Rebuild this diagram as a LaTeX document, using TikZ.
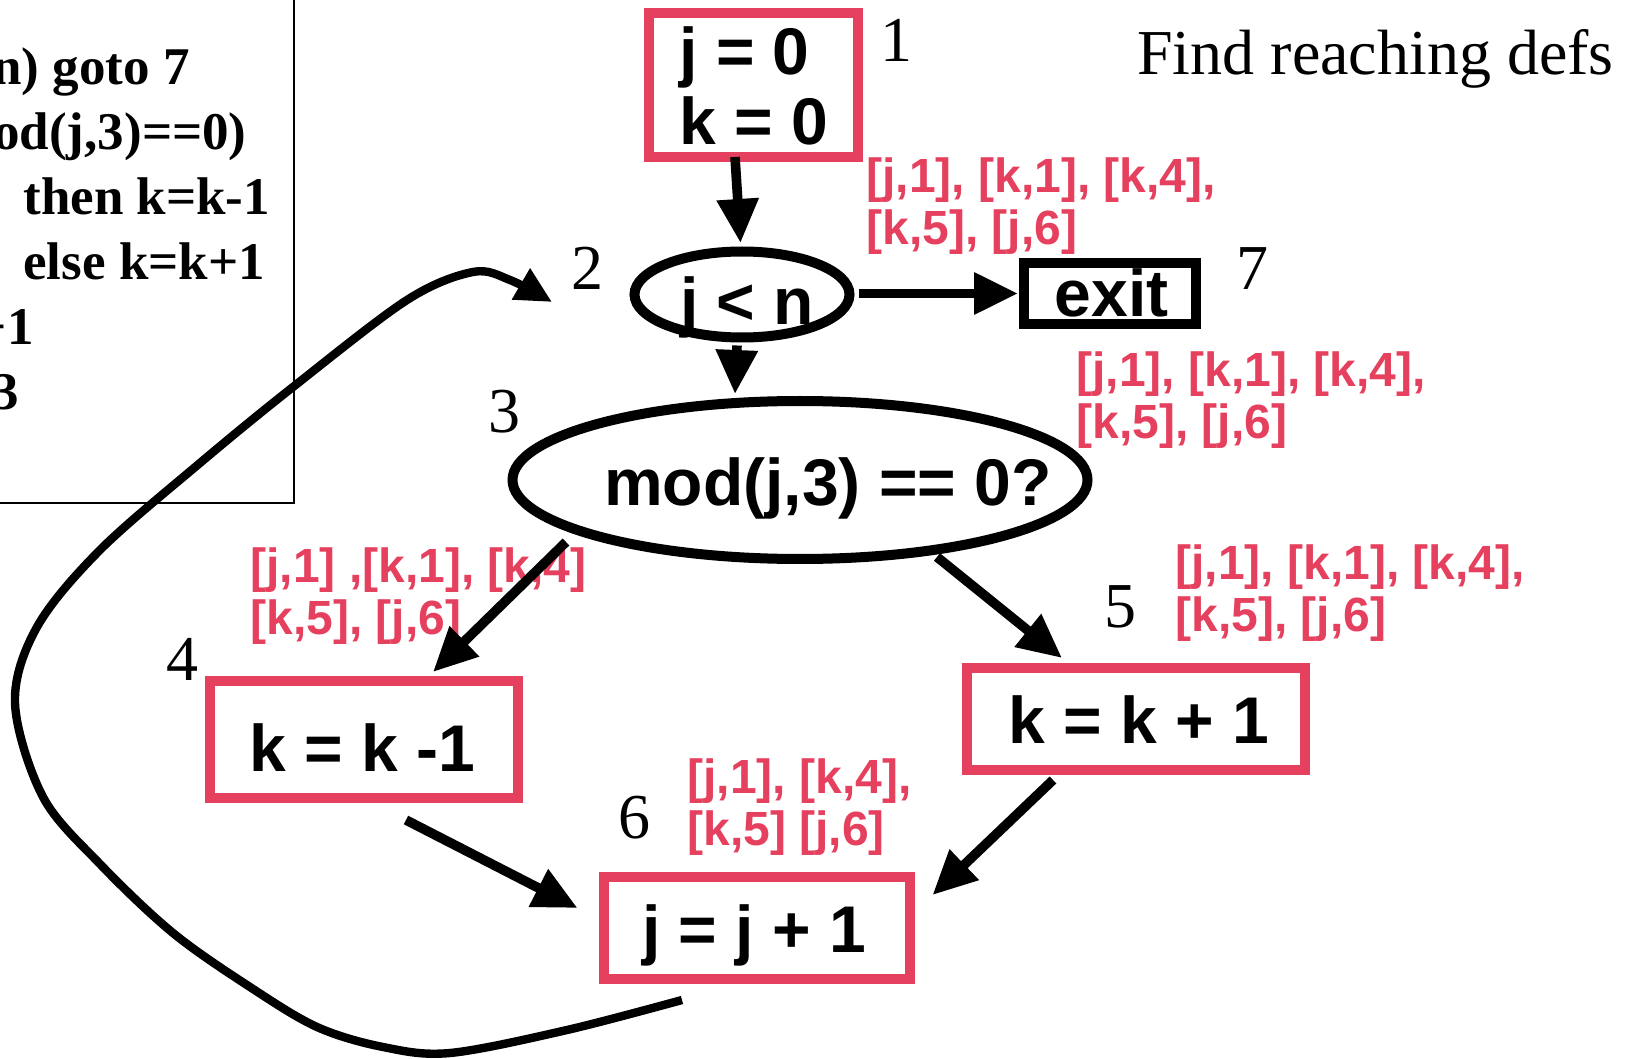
\documentclass[tikz,border=0pt]{standalone}
\usepackage{fontspec}
\setmainfont{Liberation Serif}
\setsansfont{Liberation Sans}
\usetikzlibrary{arrows.meta,shapes.geometric,calc}
\definecolor{defred}{RGB}{229,64,94}

\begin{document}
\begin{tikzpicture}[x=0.5pt,y=-0.5pt,
  redbox/.style={rectangle, draw=defred, line width=5pt, inner sep=0pt, outer sep=0pt},
  blackbox/.style={rectangle, draw=black, line width=5pt, inner sep=0pt, outer sep=0pt},
  oval/.style={ellipse, draw=black, line width=5pt, inner sep=0pt, outer sep=0pt},
  stmt/.style={font=\sffamily\bfseries\fontsize{33}{35}\selectfont, inner sep=0pt, anchor=base},
  defs/.style={font=\sffamily\bfseries\fontsize{24}{26}\selectfont, text=defred, align=left, inner sep=0pt, anchor=base west},
  num/.style={font=\fontsize{32}{36}\selectfont, inner sep=0pt, anchor=base},
  codeline/.style={font=\bfseries\fontsize{26.5}{32.5}\selectfont, inner sep=0pt},
  flow/.style={line width=4.8pt, -{Triangle[length=22pt,width=20pt]}},
  loopback/.style={line width=4.2pt, -{Triangle[length=18pt,width=17pt]}}]

\useasboundingbox (0,0) rectangle (1635,1059);
\clip (0,0) rectangle (1635,1059);

% program listing panel
\draw[line width=1pt] (-10,-10) rectangle (294,503);
\node[codeline, anchor=base east] (c2) at (190,85) {n) goto 7};
\node[codeline, anchor=base east] (c3) at (247,150) {od(j,3)==0)};
\node[codeline, anchor=base west] (c4) at (23,215) {then k=k-1};
\node[codeline, anchor=base west] (c5) at (23,280) {else k=k+1};
\node[codeline, anchor=base east] (c6) at (34,345) {+1};
\node[codeline, anchor=base east] (c7) at (19,410) {3};

% title
\node[num, anchor=base west] (title) at (1137,75) {Find reaching defs};

% flow graph blocks
\node[redbox, minimum width=104.5pt, minimum height=72pt] (n1) at (753.5,85) {};
\node[oval, minimum width=107.5pt, minimum height=43pt] (n2) at (742,294.5) {};
\node[blackbox, minimum width=86pt, minimum height=30.5pt] (n7) at (1110,293.5) {};
\node[oval, minimum width=287.5pt, minimum height=79pt] (n3) at (800,480) {};
\node[redbox, minimum width=154.25pt, minimum height=58.5pt] (n4) at (364,739.5) {};
\node[redbox, minimum width=169pt, minimum height=51pt] (n5) at (1136,719) {};
\node[redbox, minimum width=153pt, minimum height=51pt] (n6) at (756.5,928) {};

% block statements (multi-line nodes sit on the baseline of their last line)
\node[stmt, anchor=base west, align=left] (t1) at (679,145) {j = 0\\k = 0};
\node[stmt] (t2) at (747,325) {j < n};
\node[stmt] (t7) at (1111.5,317) {exit};
\node[stmt] (t3) at (828,506) {mod(j,3) == 0?};
\node[stmt] (t4) at (362.5,771) {k = k -1};
\node[stmt] (t5) at (1139,743) {k = k + 1};
\node[stmt] (t6) at (754,952) {j = j + 1};

% block numbers
\node[num] (l1) at (896.5,62) {1};
\node[num] (l2) at (587.5,290) {2};
\node[num] (l3) at (504,433) {3};
\node[num] (l7) at (1252,290) {7};
\node[num] (l4) at (182.5,680) {4};
\node[num] (l5) at (1120,627) {5};
\node[num] (l6) at (634,838) {6};

% reaching definitions on the edges
\node[defs] (d1) at (866,245) {[j,1], [k,1], [k,4],\\{}[k,5], [j,6]};
\node[defs] (d2) at (1076,439) {[j,1], [k,1], [k,4],\\{}[k,5], [j,6]};
\node[defs] (d3) at (250,634) {[j,1] ,[k,1], [k,4]\\{}[k,5], [j,6]};
\node[defs] (d4) at (1175,632) {[j,1], [k,1], [k,4],\\{}[k,5], [j,6]};
\node[defs] (d5) at (687,845) {[j,1], [k,4],\\{}[k,5] [j,6]};

% control flow edges
\draw[flow] ($(n1.south)+(-18.5,0)$) -- ($(n2.north)+(-1.5,-8.5)$);
\draw[flow] ($(n2.south)+(-5,8)$) -- ($(n3.north)+(-65,-7)$);
\draw[flow] ($(n2.east)+(9.5,-1)$) -- ($(n7.west)+(-6,0)$);
\draw[flow] ($(n3.center)+(-234,62)$) -- ($(n4.north)+(69,-9)$);
\draw[flow] ($(n3.center)+(137,77)$) -- ($(n5.north)+(-74,-10)$);
\draw[flow] ($(n4.south)+(42,22)$) -- ($(n6.west)+(-26,-20)$);
\draw[flow] ($(n5.south)+(-83,10)$) -- ($(n6.east)+(23,-33)$);

% loop edge from block 6 back to the test in block 2
\coordinate (loopstart) at ($(n6.south)+(-74.5,21)$);
\coordinate (loopend) at ($(n2.west)+(-82.5,7.5)$);
\draw[loopback] plot[smooth, tension=0.55] coordinates {(loopstart) (567,1030) (450,1053) (383,1047) (317,1027) (250,987) (173,933) (100,864) (43,797) (15,703) (37,627) (100,550) (200,463) (293,387) (407,300) (473,272) (510,280) (loopend)};
\end{tikzpicture}
\end{document}
